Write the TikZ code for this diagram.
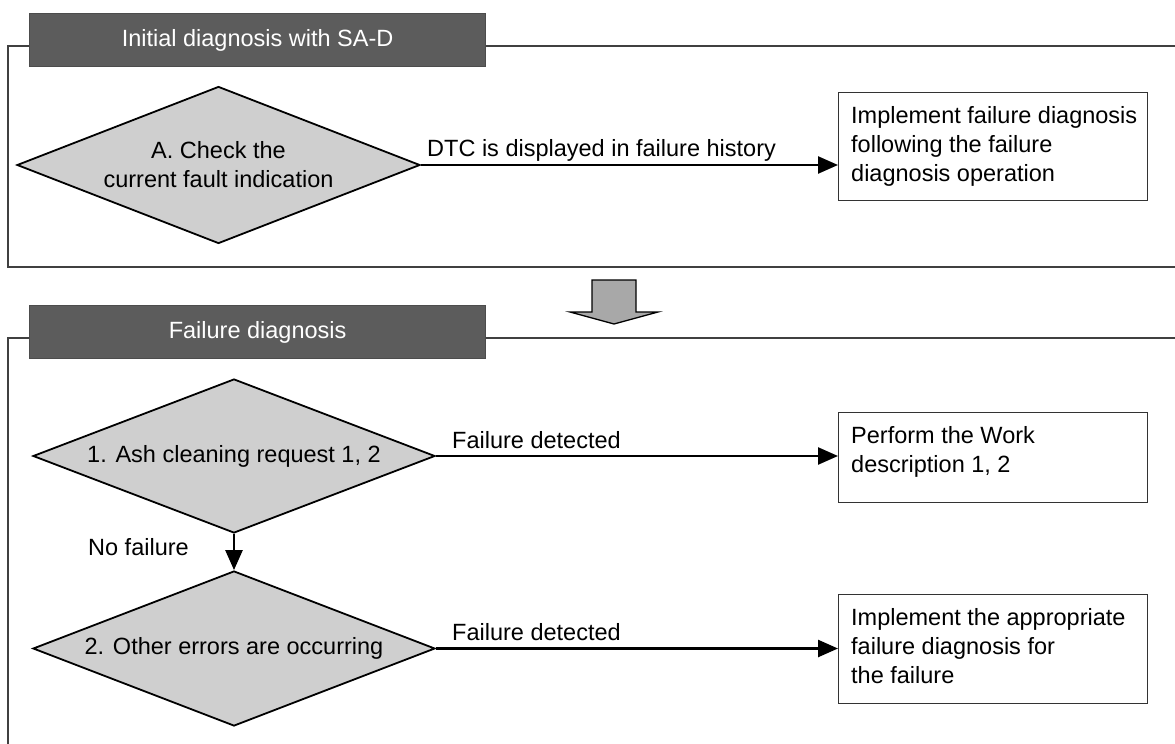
\documentclass[tikz,border=0pt]{standalone}
\usepackage{fontspec}
\setmainfont{Liberation Sans}
\usetikzlibrary{arrows.meta,shapes.geometric}
\definecolor{tabgray}{HTML}{5C5C5C}
\definecolor{diagray}{HTML}{CFCFCF}
\definecolor{arrgray}{HTML}{A8A8A8}
\begin{document}
\begin{tikzpicture}[x=1pt,y=-1pt,
  every node/.style={font=\fontsize{23.5}{29}\selectfont},
  frameline/.style={draw=black!75, line width=1.3pt},
  tabbox/.style={draw=black!70, fill=tabgray, line width=1.2pt, text=white, inner sep=0pt},
  decision/.style={shape=diamond, aspect=2.6, draw=black, fill=diagray, line width=1.8pt, inner sep=0pt, align=center},
  actbox/.style={draw=black!80, line width=1.3pt, fill=white, inner sep=0pt},
  boxtext/.style={inner sep=0pt, align=left, anchor=north west},
  flow/.style={line width=2.5pt, -{Triangle[length=20pt,width=17pt]}},
  lbl/.style={inner sep=0pt, anchor=base west},
  blockarrow/.style={draw=black, fill=arrgray, line width=1.3pt, line join=miter}]
\useasboundingbox (0,0) rectangle (1175,744);

% panel 1
\draw[frameline] (29,46) -- (8,46) -- (8,267) -- (1175,267);
\draw[frameline] (485,46) -- (1175,46);
\node[tabbox, anchor=north west, minimum width=456pt, minimum height=53pt] (tab1) at (29,13) {Initial diagnosis with SA-D};

\node[decision, minimum width=403pt, minimum height=157pt] (dA) at (218.5,165) {A. Check the\\current fault indication};
\node[actbox, anchor=north west, minimum width=309pt, minimum height=108pt] (bA) at (838,92) {};
\node[boxtext] (bAt) at (851,106) {Implement failure diagnosis\\following the failure\\diagnosis operation};
\draw[flow] (dA.east) -- (dA.east -| bA.west);
\node[lbl] (lA) at (427,156) {DTC is displayed in failure history};

% block arrow
\draw[blockarrow] (592,280) -- (636,280) -- (636,312) -- (658,312) -- (614,324) -- (570,312) -- (592,312) -- cycle;

% panel 2
\draw[frameline] (29,338) -- (8,338) -- (8,744);
\draw[frameline] (485,338) -- (1175,338);
\node[tabbox, anchor=north west, minimum width=456pt, minimum height=53pt] (tab2) at (29,305) {Failure diagnosis};

\node[decision, minimum width=402pt, minimum height=154pt] (d1) at (234,456) {1. Ash cleaning request 1, 2};
\node[decision, minimum width=402pt, minimum height=155pt] (d2) at (234,648.5) {2. Other errors are occurring};

\node[actbox, anchor=north west, minimum width=309pt, minimum height=90pt] (b1) at (838,412) {};
\node[boxtext] (b1t) at (851,426) {Perform the Work\\description 1, 2};
\node[actbox, anchor=north west, minimum width=309pt, minimum height=109pt] (b2) at (838,594) {};
\node[boxtext] (b2t) at (851,608) {Implement the appropriate\\failure diagnosis for\\the failure};

\draw[flow] (d1.south) -- (d2.north);
\draw[flow] (d1.east) -- (d1.east -| b1.west);
\draw[flow] (d2.east) -- (d2.east -| b2.west);

\node[lbl] (l1) at (452,448) {Failure detected};
\node[lbl] (l2) at (452,640) {Failure detected};
\node[lbl] (l3) at (88,555) {No failure};
\end{tikzpicture}
\end{document}
